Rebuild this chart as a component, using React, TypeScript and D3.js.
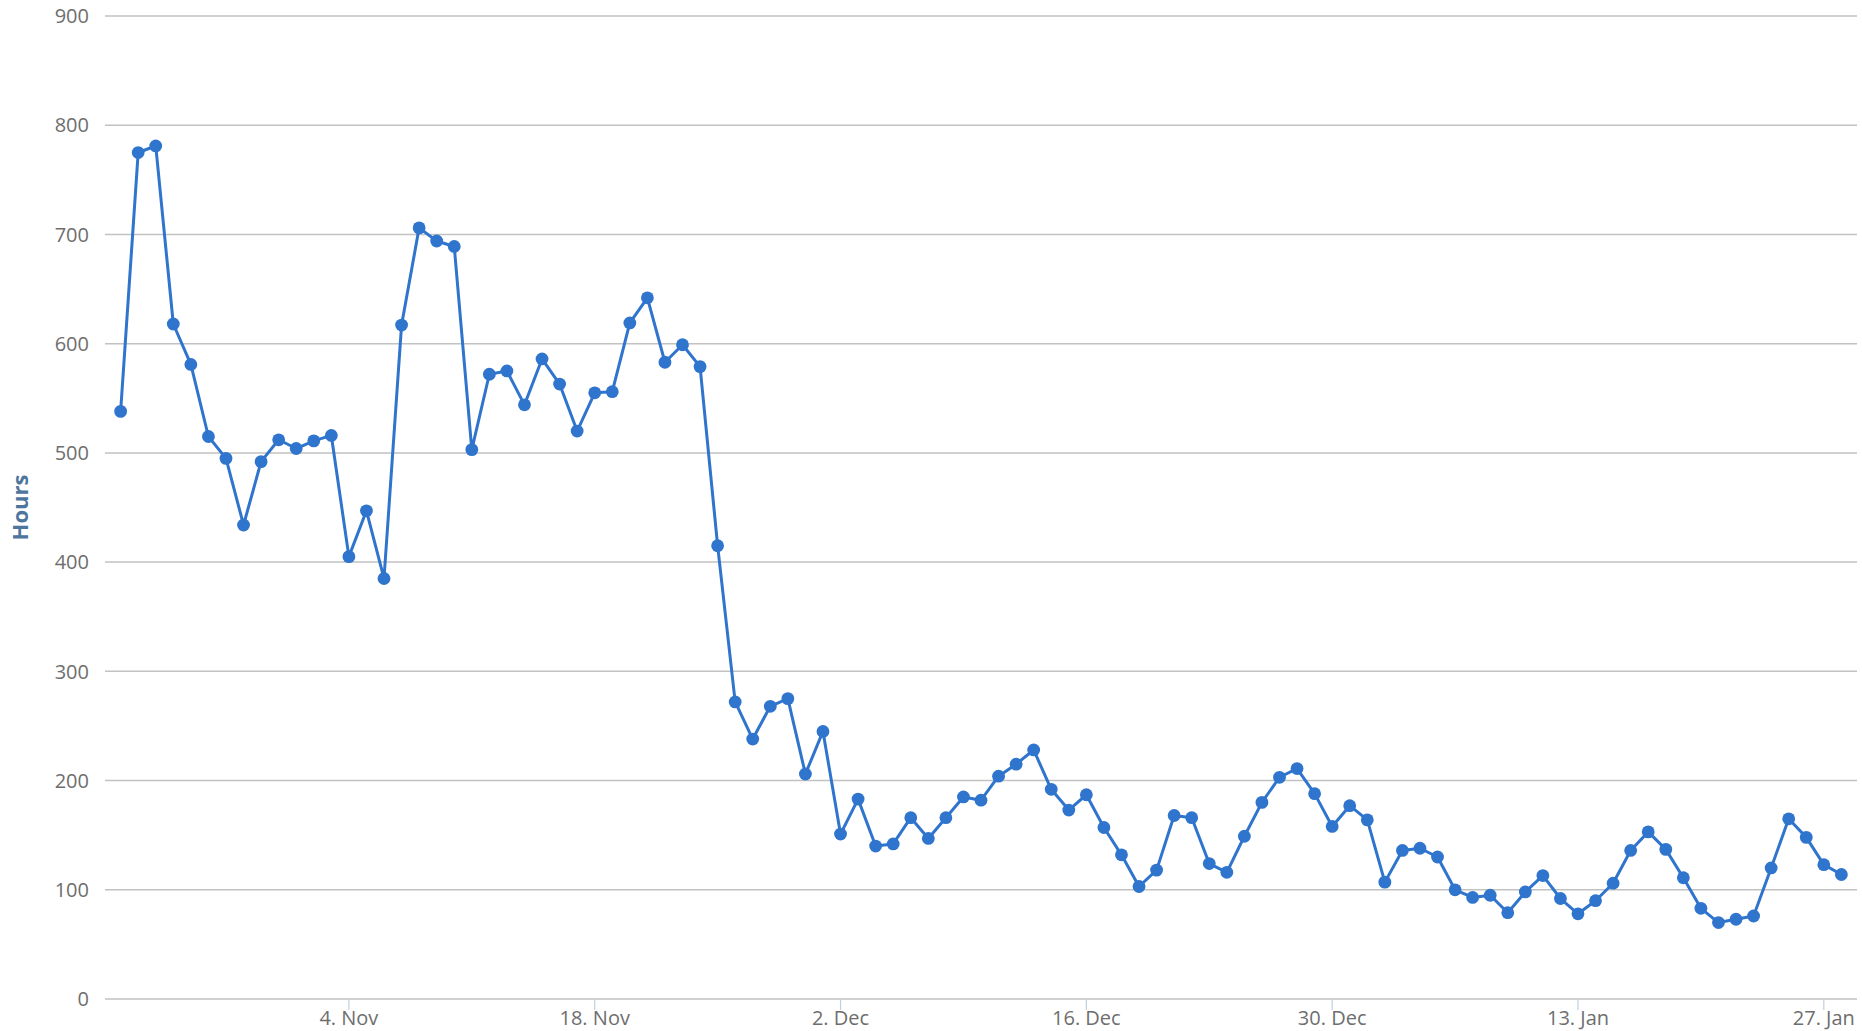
import React from "react";
import * as d3 from "d3";

// ---- data (daily values) ----
const startDate = "2013-10-22";
const octValues = [538, 775, 781, 618, 581, 515, 495, 434, 492, 512];
const novValues = [
  504, 511, 516, 405, 447, 385, 617, 706, 694, 689,
  503, 572, 575, 544, 586, 563, 520, 555, 556, 619,
  642, 583, 599, 579, 415, 272, 238, 268, 275, 206,
];
const decValues = [
  245, 151, 183, 140, 142, 166, 147, 166, 185, 182,
  204, 215, 228, 192, 173, 187, 157, 132, 103, 118,
  168, 166, 124, 116, 149, 180, 203, 211, 188, 158, 177,
];
const janValues = [
  164, 107, 136, 138, 130, 100, 93, 95, 79, 98,
  113, 92, 78, 90, 106, 136, 153, 137, 111, 83,
  70, 73, 76, 120, 165, 148, 123, 114,
];
const yTicks = [0, 100, 200, 300, 400, 500, 600, 700, 800, 900];
const xTickDates = [
  "2013-11-04", "2013-11-18", "2013-12-02", "2013-12-16",
  "2013-12-30", "2014-01-13", "2014-01-27",
];
const yAxisTitle = "Hours";

// ---- layout ----
const W = 1862;
const H = 1031;
const plotLeft = 105;
const plotRight = 1857;
const plotTop = 16;
const plotBottom = 999;
const lineColor = "#2f74cd";
const gridColor = "#c2c2c2";
const labelColor = "#6e6e6e";
const titleColor = "#4d759e";
const fontFamily = "'Open Sans', 'DejaVu Sans', sans-serif";

export default function App() {
  const values = [...octValues, ...novValues, ...decValues, ...janValues];
  const start = d3.utcParse("%Y-%m-%d")(startDate) as Date;
  const data = values.map((v, i) => ({ date: d3.utcDay.offset(start, i), value: v }));
  const end = data[data.length - 1].date;
  const pad = 0.89 * 24 * 3600 * 1000;

  const x = d3
    .scaleUtc()
    .domain([new Date(start.getTime() - pad), new Date(end.getTime() + pad)])
    .range([plotLeft, plotRight]);
  const y = d3.scaleLinear().domain([0, 900]).range([plotBottom, plotTop]);

  const line = d3
    .line<{ date: Date; value: number }>()
    .x((d) => x(d.date))
    .y((d) => y(d.value));

  const fmt = d3.utcFormat("%-d. %b");
  const ticks = xTickDates.map((s) => d3.utcParse("%Y-%m-%d")(s) as Date);

  return (
    <svg
      width={W}
      height={H}
      style={{ position: "absolute", left: 0, top: 0, background: "#ffffff" }}
      fontFamily={fontFamily}
    >
      <rect x={0} y={0} width={W} height={H} fill="#ffffff" />
      {/* grid lines */}
      {yTicks.map((t) => (
        <line
          key={"g" + t}
          x1={plotLeft}
          x2={plotRight}
          y1={y(t)}
          y2={y(t)}
          stroke={gridColor}
          strokeWidth={1.5}
        />
      ))}
      {/* y labels */}
      {yTicks.map((t) => (
        <text
          key={"yl" + t}
          x={89}
          y={y(t)}
          dy="0.36em"
          textAnchor="end"
          fontSize={20}
          fill={labelColor}
        >
          {t}
        </text>
      ))}
      {/* x ticks */}
      {ticks.map((d, i) => (
        <g key={"xt" + i}>
          <line
            x1={x(d)}
            x2={x(d)}
            y1={plotBottom}
            y2={plotBottom + 11}
            stroke="#c0d0e0"
            strokeWidth={1.2}
          />
          <text
            x={x(d)}
            y={1025}
            textAnchor="middle"
            fontSize={20}
            fill={labelColor}
          >
            {fmt(d)}
          </text>
        </g>
      ))}
      {/* y axis title */}
      <text
        transform={`translate(28, ${(plotTop + plotBottom) / 2}) rotate(-90)`}
        textAnchor="middle"
        fontSize={22}
        fontWeight="bold"
        fill={titleColor}
      >
        {yAxisTitle}
      </text>
      {/* series */}
      <path
        d={line(data) || ""}
        fill="none"
        stroke={lineColor}
        strokeWidth={3}
        strokeLinejoin="round"
      />
      {data.map((d, i) => (
        <circle key={"p" + i} cx={x(d.date)} cy={y(d.value)} r={6.4} fill={lineColor} />
      ))}
    </svg>
  );
}
